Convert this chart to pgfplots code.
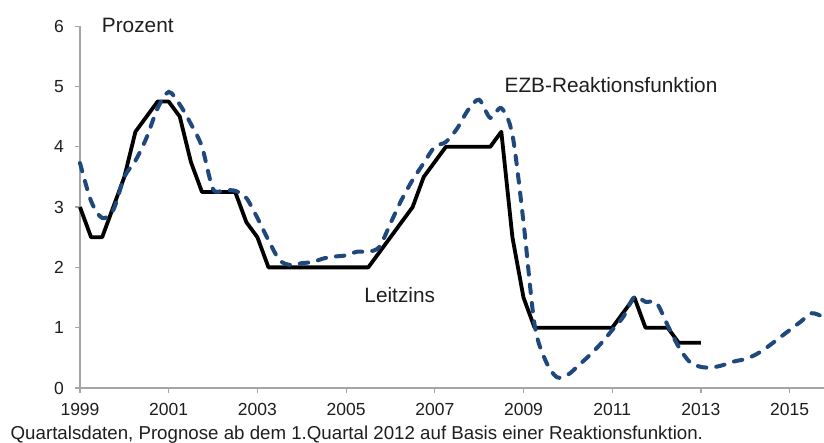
\documentclass[border=0pt]{standalone}
\usepackage{pgfplots}
\pgfplotsset{compat=1.18}
\usepackage{fontspec}
\setmainfont{Liberation Sans}
\definecolor{ezb}{RGB}{31,73,125}
\definecolor{axgray}{RGB}{165,165,165}
\definecolor{txt}{RGB}{30,30,30}

\begin{document}
\begin{tikzpicture}
\useasboundingbox (-80pt,-55pt) rectangle (744pt,388pt);
\begin{axis}[
  at={(0pt,0pt)}, anchor=south west,
  x=44.35pt, y=60.3pt,
  xmin=1999, xmax=2015.775, ymin=0, ymax=6,
  axis x line*=bottom, axis y line*=left,
  axis line style={axgray, line width=1.2pt, -},
  xtick={1999,2001,...,2015},
  ytick={0,1,...,6},
  tick align=outside,
  major tick length=5pt,
  tick style={axgray, line width=1.2pt},
  /pgf/number format/assume math mode=true,
  /pgf/number format/1000 sep={},
  xticklabel style={font=\fontsize{17.5}{20}\selectfont, text=txt, anchor=base, inner sep=0pt, yshift=-23pt},
  yticklabel style={font=\fontsize{17.5}{20}\selectfont, text=txt, anchor=east, inner sep=0pt, xshift=-11pt},
  clip=false,
]
\addplot[black, line width=3.8pt, line join=round] coordinates {
(1999.00,3.0) (1999.25,2.5) (1999.50,2.5) (1999.75,3.0)
(2000.00,3.5) (2000.25,4.25) (2000.50,4.5) (2000.75,4.75)
(2001.00,4.75) (2001.25,4.5) (2001.50,3.75) (2001.75,3.25)
(2002.00,3.25) (2002.25,3.25) (2002.50,3.25) (2002.75,2.75)
(2003.00,2.5) (2003.25,2.0) (2003.50,2.0) (2003.75,2.0)
(2004.00,2.0) (2004.25,2.0) (2004.50,2.0) (2004.75,2.0)
(2005.00,2.0) (2005.25,2.0) (2005.50,2.0) (2005.75,2.25)
(2006.00,2.5) (2006.25,2.75) (2006.50,3.0) (2006.75,3.5)
(2007.00,3.75) (2007.25,4.0) (2007.50,4.0) (2007.75,4.0)
(2008.00,4.0) (2008.25,4.0) (2008.50,4.25) (2008.75,2.5)
(2009.00,1.5) (2009.25,1.0) (2009.50,1.0) (2009.75,1.0)
(2010.00,1.0) (2010.25,1.0) (2010.50,1.0) (2010.75,1.0)
(2011.00,1.0) (2011.25,1.25) (2011.50,1.5) (2011.75,1.0)
(2012.00,1.0) (2012.25,1.0) (2012.50,0.75) (2012.75,0.75)
(2013.00,0.75)
};
\addplot[ezb, line width=4pt, line cap=round, dash pattern=on 8.5pt off 10pt, smooth, tension=0.5] coordinates {
(1999.00,3.73) (1999.25,3.1) (1999.50,2.82) (1999.75,2.95)
(2000.00,3.5) (2000.25,3.77) (2000.50,4.15) (2000.75,4.64)
(2001.00,4.91) (2001.25,4.7) (2001.50,4.38) (2001.75,4.0)
(2002.00,3.3) (2002.25,3.28) (2002.50,3.27) (2002.75,3.15)
(2003.00,2.82) (2003.25,2.45) (2003.50,2.12) (2003.75,2.04)
(2004.00,2.07) (2004.25,2.09) (2004.50,2.15) (2004.75,2.18)
(2005.00,2.2) (2005.25,2.26) (2005.50,2.26) (2005.75,2.34)
(2006.00,2.73) (2006.25,3.12) (2006.50,3.45) (2006.75,3.73)
(2007.00,4.0) (2007.25,4.08) (2007.50,4.3) (2007.75,4.61)
(2008.00,4.78) (2008.25,4.48) (2008.50,4.64) (2008.75,4.2)
(2009.00,2.75) (2009.25,1.05) (2009.50,0.45) (2009.75,0.18)
(2010.00,0.22) (2010.25,0.38) (2010.50,0.55) (2010.75,0.74)
(2011.00,0.96) (2011.25,1.18) (2011.50,1.51) (2011.75,1.43)
(2012.00,1.41) (2012.25,1.04) (2012.50,0.68) (2012.75,0.43)
(2013.00,0.35) (2013.25,0.34) (2013.50,0.38) (2013.75,0.44)
(2014.00,0.48) (2014.25,0.56) (2014.50,0.68) (2014.75,0.82)
(2015.00,0.96) (2015.25,1.1) (2015.50,1.24) (2015.75,1.18)
};
\node[anchor=base west, inner sep=0pt, text=txt, font=\fontsize{20.8}{24}\selectfont] at (axis cs:1999.49,5.90) {Prozent};
\node[anchor=base west, inner sep=0pt, text=txt, font=\fontsize{20.8}{24}\selectfont] at (axis cs:2008.57,4.90) {EZB-Reaktionsfunktion};
\node[anchor=base west, inner sep=0pt, text=txt, font=\fontsize{20.8}{24}\selectfont] at (axis cs:2005.41,1.41) {Leitzins};
\end{axis}
\node[anchor=base west, inner sep=0pt, text=txt, font=\fontsize{18.7}{22}\selectfont] at (-69.5pt,-52pt) {Quartalsdaten, Prognose ab dem 1.Quartal 2012 auf Basis einer Reaktionsfunktion.};
\end{tikzpicture}
\end{document}
